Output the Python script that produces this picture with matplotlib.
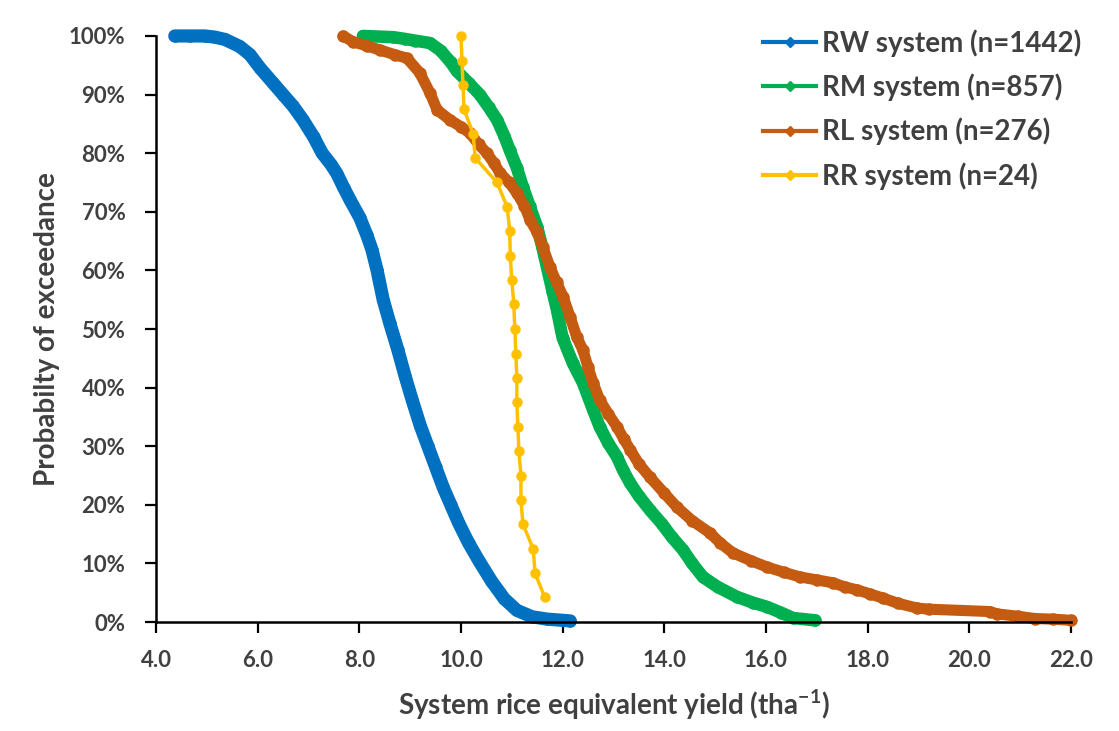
import matplotlib
matplotlib.use("Agg")
import matplotlib.pyplot as plt
from matplotlib.lines import Line2D
from matplotlib.ticker import FuncFormatter

plt.rcParams['font.family'] = ['Lato', 'DejaVu Sans']
plt.rcParams['font.weight'] = 'bold'

TXT = '#404040'

# ---- data (yield t/ha, exceedance %) ----
rw_yield = [4.37, 4.67, 4.96, 5.16, 5.36, 5.65, 5.85, 6.05, 6.30, 6.50, 6.70, 6.89,
            7.10, 7.27, 7.45, 7.56, 7.70, 7.82, 8.01, 8.15, 8.25, 8.35, 8.47, 8.60,
            8.76, 8.90, 9.04, 9.20, 9.35, 9.50, 9.65, 9.80, 9.95, 10.15, 10.35,
            10.60, 10.85, 11.10, 11.40, 11.70, 12.00, 12.15]
rw_prob = [100, 100, 100, 99.8, 99.4, 98.2, 96.8, 94.5, 92.0, 90.0, 88.0, 85.7,
           82.8, 80.0, 78.0, 76.5, 74.0, 72.0, 69.0, 66.0, 63.5, 60.0, 55.0, 51.0,
           46.4, 42.0, 37.9, 33.5, 30.0, 26.5, 23.0, 20.0, 17.0, 13.5, 10.5,
           7.0, 4.0, 2.0, 0.9, 0.5, 0.3, 0.2]

rm_yield = [8.07, 8.66, 8.90, 9.10, 9.39, 9.60, 9.80, 9.92, 10.15, 10.37, 10.55,
            10.71, 10.85, 10.96, 11.10, 11.22, 11.35, 11.50, 11.60, 11.69, 11.80,
            11.89, 12.00, 12.20, 12.40, 12.60, 12.73, 12.90, 13.07, 13.19, 13.33,
            13.50, 13.72, 13.95, 14.15, 14.37, 14.55, 14.76, 15.05, 15.43, 15.75,
            16.02, 16.30, 16.53, 16.97]
rm_prob = [100, 99.8, 99.5, 99.2, 98.8, 97.5, 95.5, 94.0, 92.0, 90.0, 87.8,
           85.7, 83.0, 80.5, 77.5, 74.2, 71.0, 67.4, 64.0, 60.6, 56.5,
           53.2, 48.5, 44.2, 40.8, 36.2, 33.3, 30.5, 28.2, 25.9, 23.7,
           21.5, 19.1, 16.8, 14.5, 12.3, 10.0, 7.7, 6.0, 4.3, 3.3,
           2.6, 1.6, 0.7, 0.3]

rl_yield = [7.68, 7.88, 8.15, 8.41, 8.70, 8.94, 9.19, 9.39, 9.53, 9.78, 10.00,
            10.18, 10.35, 10.51, 10.65, 10.77, 10.95, 11.10, 11.25, 11.36, 11.50,
            11.61, 11.75, 11.88, 12.01, 12.15, 12.28, 12.40, 12.50, 12.60, 12.73,
            12.90, 13.07, 13.20, 13.33, 13.50, 13.72, 14.00, 14.25, 14.55, 14.90,
            15.10, 15.35, 15.70, 16.02, 16.35, 16.67, 17.00, 17.32, 17.55, 17.79,
            18.05, 18.30, 18.60, 18.97, 19.20, 20.40, 20.55, 20.95, 21.30, 21.65,
            22.00]
rl_prob = [100, 99.0, 98.3, 97.6, 96.8, 96.2, 93.7, 90.3, 87.4, 85.7, 84.5,
           83.4, 81.5, 80.0, 78.3, 76.6, 75.0, 73.2, 71.0, 68.6, 66.5,
           64.0, 60.6, 58.0, 55.5, 52.0, 48.6, 46.4, 43.5, 40.8, 37.9,
           35.5, 33.3, 31.3, 29.4, 27.0, 24.7, 22.0, 19.6, 17.3, 15.2,
           13.5, 11.8, 10.5, 9.4, 8.5, 7.7, 7.2, 6.7, 6.0, 5.5,
           4.8, 4.1, 3.2, 2.4, 2.2, 1.8, 1.4, 1.0, 0.6, 0.5,
           0.3]

rr_yield = [10.00, 10.02, 10.04, 10.06, 10.24, 10.28, 10.71, 10.91, 10.96, 10.97,
            11.00, 11.04, 11.06, 11.08, 11.10, 11.10, 11.12, 11.14, 11.18, 11.18,
            11.22, 11.42, 11.46, 11.65]
rr_prob = [100, 95.8, 91.7, 87.5, 83.3, 79.2, 75.0, 70.8, 66.7, 62.5,
           58.3, 54.2, 50.0, 45.8, 41.7, 37.5, 33.3, 29.2, 25.0, 20.8,
           16.7, 12.5, 8.3, 4.2]

labels = ['RW system (n=1442)', 'RM system (n=857)',
          'RL system (n=276)', 'RR system (n=24)']
colors = ['#0070C0', '#00B050', '#C55A11', '#FFC000']

x_ticks = [4.0, 6.0, 8.0, 10.0, 12.0, 14.0, 16.0, 18.0, 20.0, 22.0]
y_ticks = [0, 10, 20, 30, 40, 50, 60, 70, 80, 90, 100]

fig = plt.figure(figsize=(11.19, 7.31), dpi=100)
ax = fig.add_axes([0.1394, 0.149, 0.8176, 0.8018])

series = [(rw_yield, rw_prob, 9.5, 8), (rm_yield, rm_prob, 9, 8),
          (rl_yield, rl_prob, 8, 8), (rr_yield, rr_prob, 2.5, 6.5)]
for (xs, ys, lw, ms), c in zip(series, colors):
    ax.plot(xs, [v / 100 for v in ys], color=c, lw=lw, marker='o', ms=ms,
            solid_capstyle='round', solid_joinstyle='round', zorder=3,
            clip_on=False)

ax.set_xlim(4.0, 22.0)
ax.set_ylim(0, 1.0)
ax.set_xticks(x_ticks)
ax.set_yticks([v / 100 for v in y_ticks])
ax.xaxis.set_major_formatter(FuncFormatter(lambda v, p: f'{v:.1f}'))
ax.yaxis.set_major_formatter(FuncFormatter(lambda v, p: f'{v*100:.0f}%'))

for s in ['top', 'right']:
    ax.spines[s].set_visible(False)
for s in ['left', 'bottom']:
    ax.spines[s].set_linewidth(1.8)
    ax.spines[s].set_color('black')
    ax.spines[s].set_zorder(4)
ax.tick_params(axis='both', direction='out', length=8, width=1.6,
               colors='black', labelcolor=TXT, labelsize=16)
ax.tick_params(axis='y', pad=14)
ax.tick_params(axis='x', pad=12)
for lab in ax.get_xticklabels() + ax.get_yticklabels():
    lab.set_fontweight('bold')

ax.set_xlabel('System rice equivalent yield (tha$^{\\mathregular{-1}}$)',
              fontsize=20, fontweight='bold', color=TXT, labelpad=12)
ax.set_ylabel('Probabilty of exceedance', fontsize=20, fontweight='bold',
              color=TXT, labelpad=6)

handles = [Line2D([0], [0], color=c, lw=3, marker='D', ms=5) for c in colors]
leg = fig.legend(handles, labels, loc='upper right', frameon=False,
                 bbox_to_anchor=(0.966, 0.96), fontsize=20, handlelength=1.9,
                 handletextpad=0.2, labelspacing=0.6, borderaxespad=0.0,
                 borderpad=0.0)
for t in leg.get_texts():
    t.set_color(TXT)
    t.set_fontweight('bold')

fig.savefig('out.png', dpi=100)
